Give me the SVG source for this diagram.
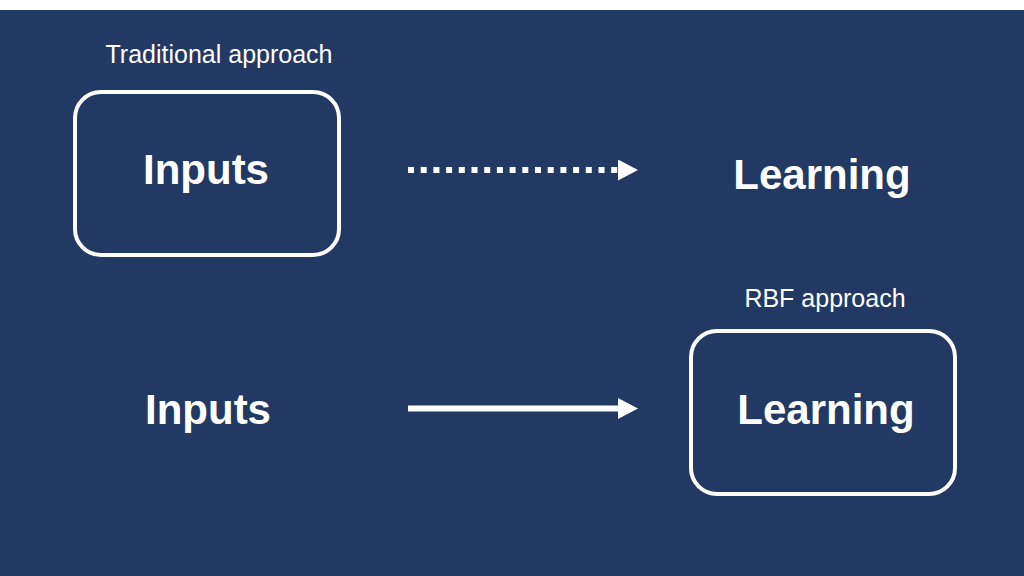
<svg xmlns="http://www.w3.org/2000/svg" width="1024" height="576" viewBox="0 0 1024 576">
<defs>
<style>
.bg{fill:#213963}
.box{fill:none;stroke:#ffffff;stroke-width:4}
.lbl{font-family:"Liberation Sans",Arial,sans-serif;font-size:25px;fill:#ffffff;text-anchor:middle}
.big{font-family:"Liberation Sans",Arial,sans-serif;font-size:42px;font-weight:bold;fill:#ffffff;text-anchor:middle}
.ln{stroke:#ffffff;stroke-width:6;fill:none}
</style>
<marker id="ah" markerUnits="userSpaceOnUse" markerWidth="22" markerHeight="22" refX="0" refY="10.5" orient="auto" viewBox="0 0 22 22">
<path d="M0,0 L20,10.5 L0,21 Z" fill="#ffffff"/>
</marker>
</defs>
<rect x="0" y="0" width="1024" height="576" fill="#ffffff"/>
<rect class="bg" x="0" y="10" width="1024" height="566"/>
<text class="lbl" x="219" y="63">Traditional approach</text>
<text class="lbl" x="825" y="307">RBF approach</text>
<g id="inputs-traditional">
<rect class="box" x="75" y="92" width="264" height="163" rx="26"/>
<text class="big" x="206" y="184">Inputs</text>
</g>
<g id="learning-traditional">
<text class="big" x="822" y="189">Learning</text>
</g>
<g id="inputs-rbf">
<text class="big" x="208" y="424">Inputs</text>
</g>
<g id="learning-rbf">
<rect class="box" x="691" y="331" width="264" height="163" rx="26"/>
<text class="big" x="826" y="424">Learning</text>
</g>
<g id="connectors">
<line class="ln" x1="408" y1="170" x2="618" y2="170" stroke-dasharray="6 6.7" marker-end="url(#ah)"/>
<line class="ln" x1="408" y1="408.5" x2="618" y2="408.5" marker-end="url(#ah)"/>
</g>
</svg>
